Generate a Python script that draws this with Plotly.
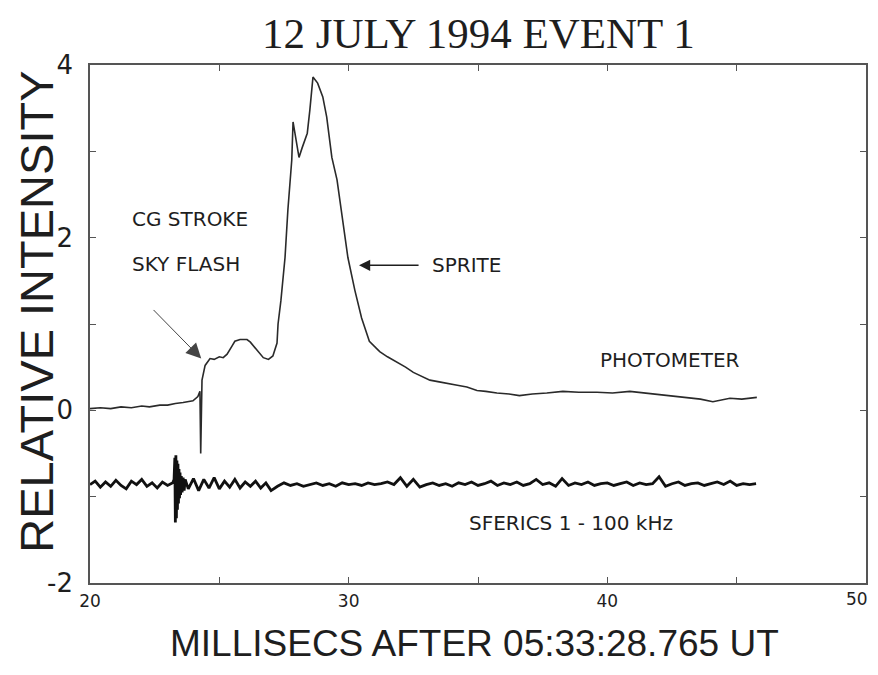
import plotly.graph_objects as go

# ---------------- data ----------------
photo_t = [20.0, 20.4, 20.8, 21.2, 21.6, 22.0, 22.3, 22.7, 23.0, 23.3, 23.6, 23.98,
           24.17, 24.25, 24.28, 24.3, 24.33, 24.45, 24.64, 24.8, 25.0, 25.15, 25.3,
           25.5, 25.6, 25.8, 26.07, 26.2, 26.45, 26.7, 26.9, 27.07, 27.23, 27.27,
           27.38, 27.54, 27.65, 27.8, 27.85, 27.96, 28.08, 28.2, 28.4, 28.5, 28.62,
           28.8, 29.0, 29.15, 29.35, 29.55, 29.74, 29.97, 30.24, 30.5, 30.8, 31.2,
           31.5, 31.87, 32.2, 32.5, 32.8, 33.14, 33.5, 33.8, 34.2, 34.57, 34.96,
           35.3, 35.73, 36.2, 36.6, 37.1, 37.66, 38.28, 38.9, 39.6, 40.2, 40.87,
           41.5, 42.15, 42.6, 43.08, 43.6, 44.08, 44.4, 44.74, 45.2, 45.78]
photo_v = [0.02, 0.03, 0.02, 0.04, 0.03, 0.05, 0.04, 0.06, 0.06, 0.08, 0.09, 0.11,
           0.16, 0.22, -0.50, 0.24, 0.35, 0.52, 0.60, 0.59, 0.62, 0.61, 0.65,
           0.75, 0.80, 0.82, 0.82, 0.79, 0.70, 0.61, 0.59, 0.63, 0.78, 1.00,
           1.27, 1.77, 2.32, 2.90, 3.34, 3.16, 2.93, 3.04, 3.21, 3.48, 3.86,
           3.79, 3.63, 3.40, 2.93, 2.67, 2.28, 1.77, 1.39, 1.07, 0.80, 0.68,
           0.62, 0.56, 0.50, 0.44, 0.40, 0.35, 0.33, 0.31, 0.29, 0.27, 0.23,
           0.22, 0.20, 0.19, 0.17, 0.19, 0.20, 0.22, 0.21, 0.21, 0.20, 0.22,
           0.20, 0.18, 0.17, 0.15, 0.13, 0.10, 0.12, 0.14, 0.13, 0.15]

sferic_t = [20.0, 20.2, 20.4, 20.6, 20.8, 21.0, 21.2, 21.4, 21.6, 21.8, 22.0, 22.2,
            22.4, 22.6, 22.8, 23.0, 23.2,
            23.25, 23.28, 23.3, 23.32, 23.34, 23.36, 23.38, 23.4, 23.42, 23.44,
            23.46, 23.48, 23.5, 23.53, 23.56, 23.6, 23.64, 23.68,
            23.8, 24.0, 24.2, 24.4, 24.6, 24.8, 25.0, 25.2, 25.4, 25.6, 25.8, 26.0,
            26.2, 26.4, 26.6, 26.8, 27.0,
            27.25, 27.5, 27.75, 28.0, 28.25, 28.5, 28.75, 29.0, 29.25, 29.5, 29.75,
            30.0, 30.25, 30.5, 30.75, 31.0, 31.25, 31.5, 31.75, 32.0, 32.25, 32.5,
            32.75, 33.0, 33.25, 33.5, 33.75, 34.0, 34.25, 34.5, 34.75, 35.0, 35.25,
            35.5, 35.75, 36.0, 36.25, 36.5, 36.75, 37.0, 37.25, 37.5, 37.75, 38.0,
            38.25, 38.5, 38.75, 39.0, 39.25, 39.5, 39.75, 40.0, 40.25, 40.5, 40.75,
            41.0, 41.25, 41.5, 41.75, 42.0, 42.25, 42.5, 42.75, 43.0, 43.25, 43.5,
            43.75, 44.0, 44.25, 44.5, 44.75, 45.0, 45.25, 45.5, 45.75]
sferic_v = [-0.86, -0.82, -0.89, -0.83, -0.88, -0.81, -0.87, -0.91, -0.82, -0.86,
            -0.80, -0.88, -0.84, -0.90, -0.83, -0.87, -0.84,
            -0.80, -0.55, -1.30, -0.52, -1.25, -0.58, -1.15, -0.62, -1.08, -0.68,
            -1.02, -0.72, -0.98, -0.76, -0.95, -0.78, -0.93, -0.80,
            -0.91, -0.79, -0.93, -0.80, -0.90, -0.78, -0.91, -0.82, -0.89, -0.80,
            -0.90, -0.83, -0.88, -0.82, -0.90, -0.84, -0.93,
            -0.88, -0.84, -0.87, -0.85, -0.88, -0.86, -0.84, -0.87, -0.85, -0.88,
            -0.84, -0.86, -0.85, -0.87, -0.84, -0.86, -0.85, -0.83, -0.86, -0.78,
            -0.88, -0.80, -0.89, -0.86, -0.84, -0.87, -0.85, -0.88, -0.84, -0.86,
            -0.83, -0.87, -0.85, -0.82, -0.87, -0.84, -0.86, -0.83, -0.87, -0.85,
            -0.80, -0.86, -0.84, -0.88, -0.79, -0.87, -0.84, -0.86, -0.83, -0.87,
            -0.85, -0.84, -0.87, -0.85, -0.83, -0.87, -0.84, -0.86, -0.85, -0.77,
            -0.88, -0.85, -0.83, -0.87, -0.85, -0.84, -0.87, -0.85, -0.83, -0.86,
            -0.82, -0.87, -0.85, -0.86, -0.85]

x_tick_vals = [20, 25, 30, 35, 40, 45, 50]
x_tick_text = ["20", "", "30", "", "40", "", "50"]
y_tick_vals = [-2, -1, 0, 1, 2, 3, 4]
y_tick_text = ["-2", "", "0", "", "2", "", "4"]

title_text = "12 JULY 1994 EVENT 1"
x_title = "MILLISECS AFTER 05:33:28.765 UT"
y_title = "RELATIVE INTENSITY"

# ---------------- figure ----------------
ink = "#1e1e1e"
label_font = dict(family="DejaVu Sans", size=20, color=ink)
xtick_font = dict(family="DejaVu Sans", size=17, color=ink)

fig = go.Figure()
fig.add_trace(go.Scatter(x=photo_t, y=photo_v, mode="lines",
                         line=dict(color="#2a2a2a", width=1.6), showlegend=False,
                         hoverinfo="skip"))
fig.add_trace(go.Scatter(x=sferic_t, y=sferic_v, mode="lines",
                         line=dict(color="#111111", width=2.8), showlegend=False,
                         hoverinfo="skip"))

axis_common = dict(showgrid=False, zeroline=False, showline=True, linecolor="#555555",
                   linewidth=1.5, mirror="allticks", ticks="inside", ticklen=6,
                   tickcolor="#555555", tickwidth=1.2, automargin=False)

# the last x label ("50") sits at the right window edge, so it is drawn as an
# annotation pulled slightly inward, as in the reference
fig.update_xaxes(range=[20, 50], tickvals=x_tick_vals,
                 ticktext=x_tick_text[:-1] + [""],
                 tickfont=xtick_font, ticklabelstandoff=2, **axis_common)
fig.update_yaxes(range=[-2, 4], tickvals=y_tick_vals, ticktext=y_tick_text,
                 tickfont=dict(family="DejaVu Sans", size=26, color=ink),
                 ticklabelstandoff=10, **axis_common)

annotations = [
    dict(text=title_text, xref="paper", yref="paper", x=0.501, y=1.061,
         xanchor="center", yanchor="middle", showarrow=False,
         font=dict(family="Liberation Serif", size=43, color=ink)),
    dict(text=x_title, xref="paper", yref="paper", x=0.496, y=-0.116,
         xanchor="center", yanchor="middle", showarrow=False,
         font=dict(family="Liberation Sans", size=37, color=ink)),
    dict(text=y_title, xref="paper", yref="paper", x=-0.070, y=0.523,
         xanchor="center", yanchor="middle", showarrow=False, textangle=-90,
         font=dict(family="Liberation Sans", size=47, color=ink)),
    dict(text=x_tick_text[-1], xref="x", yref="paper", x=x_tick_vals[-1], y=0,
         xanchor="right", yanchor="top", yshift=-4, xshift=4, showarrow=False,
         font=xtick_font),
    dict(text="CG STROKE", xref="x", yref="y", x=21.55, y=2.22, xanchor="left",
         yanchor="middle", showarrow=False, font=label_font),
    dict(text="SKY FLASH", xref="x", yref="y", x=21.55, y=1.70, xanchor="left",
         yanchor="middle", showarrow=False, font=label_font),
    dict(text="SPRITE", xref="x", yref="y", x=33.14, y=1.68, xanchor="left",
         yanchor="middle", showarrow=False, font=label_font),
    dict(text="PHOTOMETER", xref="x", yref="y", x=39.64, y=0.58, xanchor="left",
         yanchor="middle", showarrow=False, font=label_font),
    dict(text="SFERICS 1 - 100 kHz", xref="x", yref="y", x=34.57, y=-1.31,
         xanchor="left", yanchor="middle", showarrow=False, font=label_font),
    # arrows
    dict(text="", xref="x", yref="y", x=30.4, y=1.68, axref="x", ayref="y",
         ax=32.76, ay=1.68, showarrow=True, arrowhead=2, arrowsize=1.6,
         arrowwidth=1.4, arrowcolor=ink, standoff=0),
    dict(text="", xref="x", yref="y", x=24.3, y=0.6, axref="x", ayref="y",
         ax=22.4, ay=1.18, showarrow=True, arrowhead=2, arrowsize=3,
         arrowwidth=1.0, arrowcolor="#444444", standoff=0),
]

# The page body adds an 8 px offset, so the figure is sized/margined to land
# the plot box at the reference's pixel position inside the 878x675 window.
fig.update_layout(width=870, height=659, margin=dict(l=82, r=12, t=57, b=84),
                  paper_bgcolor="white", plot_bgcolor="white",
                  annotations=annotations, showlegend=False)

fig.write_html("out.html")
